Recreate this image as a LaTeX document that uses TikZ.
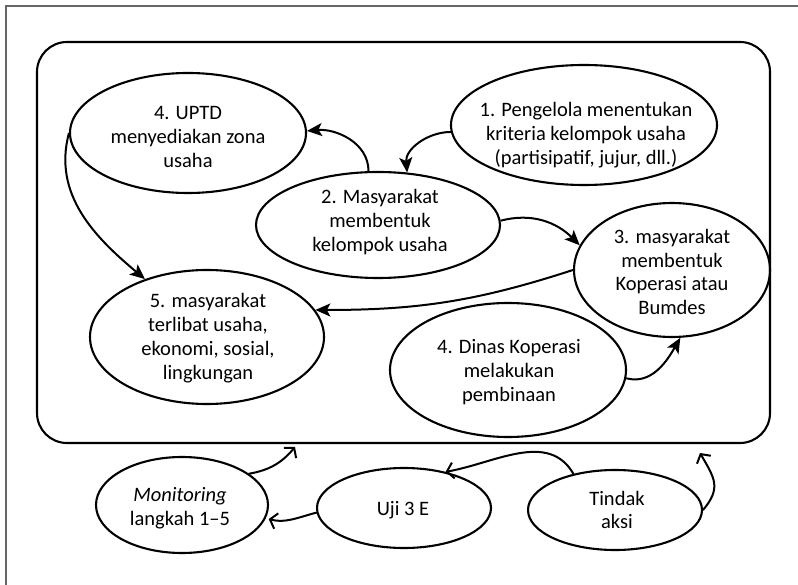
\documentclass[tikz,border=0pt]{standalone}
\usepackage{fontspec}
\setmainfont{Carlito}
\usetikzlibrary{shapes.geometric, arrows.meta}

\begin{document}
\begin{tikzpicture}[x=1pt, y=-1pt,
  oval/.style={ellipse, draw, line width=2.1pt, inner sep=0pt},
  txt/.style={align=center, font=\fontsize{20.5}{23.8}\selectfont, inner sep=0pt},
  flow/.style={line width=2pt, -{Stealth[length=15pt,width=13pt,inset=3.5pt]}},
  cycle/.style={line width=2pt, -{Straight Barb[length=6.5pt,width=16pt]}, line cap=round},
]
\useasboundingbox (0,0) rectangle (798,585);

% outer frame (top and left edges)
\draw[line width=1.5pt, black!60] (6,585) -- (6,6) -- (798,6);

% phase container
\node[draw, line width=2.1pt, rounded corners=30pt, minimum width=733pt,
      minimum height=401pt, inner sep=0pt] (phase) at (403.5,242.5) {};

% steps inside the container
\node[oval, minimum width=236pt, minimum height=120pt] (uptd) at (188,133) {};
\node[txt] (uptdt) at (188,137) {4. UPTD\\menyediakan zona\\usaha};

\node[oval, minimum width=266pt, minimum height=120pt] (pengelola) at (584,125) {};
\node[txt] (pengelolat) at (586,135) {1. Pengelola menentukan\\kriteria kelompok usaha\\(partisipatif, jujur, dll.)};

\node[oval, minimum width=244pt, minimum height=106pt] (bentuk) at (378,225) {};
\node[txt] (bentukt) at (380,222) {2. Masyarakat\\membentuk\\kelompok usaha};

\node[oval, minimum width=196pt, minimum height=134pt] (koperasi) at (672,270) {};
\node[txt] (koperasit) at (672,272) {3. masyarakat\\membentuk\\Koperasi atau\\Bumdes};

\node[oval, minimum width=234pt, minimum height=134pt] (terlibat) at (207,337) {};
\node[txt] (terlibatt) at (208,338) {5. masyarakat\\terlibat usaha,\\ekonomi, sosial,\\lingkungan};

\node[oval, minimum width=236pt, minimum height=134pt] (dinas) at (508,370) {};
\node[txt] (dinast) at (509,372) {4. Dinas Koperasi\\melakukan\\pembinaan};

% evaluation cycle
\node[oval, minimum width=172pt, minimum height=96pt] (monitor) at (182,505) {};
\node[txt] (monitort) at (180,508) {\textit{Monitoring}\\langkah 1–5};

\node[oval, minimum width=174pt, minimum height=80pt] (uji) at (404,508) {};
\node[txt] (ujit) at (403,510) {Uji 3 E};

\node[oval, minimum width=174pt, minimum height=80pt] (tindak) at (615,510) {};
\node[txt] (tindakt) at (617,510) {Tindak\\aksi};

\coordinate (back1) at (295,447);
\coordinate (back2) at (700,453);

% flow between the steps
\draw[flow] (pengelola.183) to[out=180,in=95] (bentuk.61);
\draw[flow] (bentuk.100) to[out=90,in=5] (uptd.1);
\draw[flow] (uptd.180) to[out=255,in=140] (terlibat.137);
\draw[flow] (bentuk.2) to[out=15,in=135] (koperasi.165);
\draw[flow] (koperasi.180) to[out=198,in=0] (terlibat.14);
\draw[flow] (dinas.-4) to[out=-15,in=240] (koperasi.-83);

% cycle arrows
\draw[cycle] (monitor.25) to[out=10,in=230] (back1);
\draw[cycle, shorten >=3pt] (uji.183) to[out=195,in=-15] (monitor.-9);
\draw[cycle] (tindak.139) to[out=120,in=10] (uji.41);
\draw[cycle] (tindak.0) to[out=50,in=-60, looseness=1.3] (back2);
\end{tikzpicture}
\end{document}
